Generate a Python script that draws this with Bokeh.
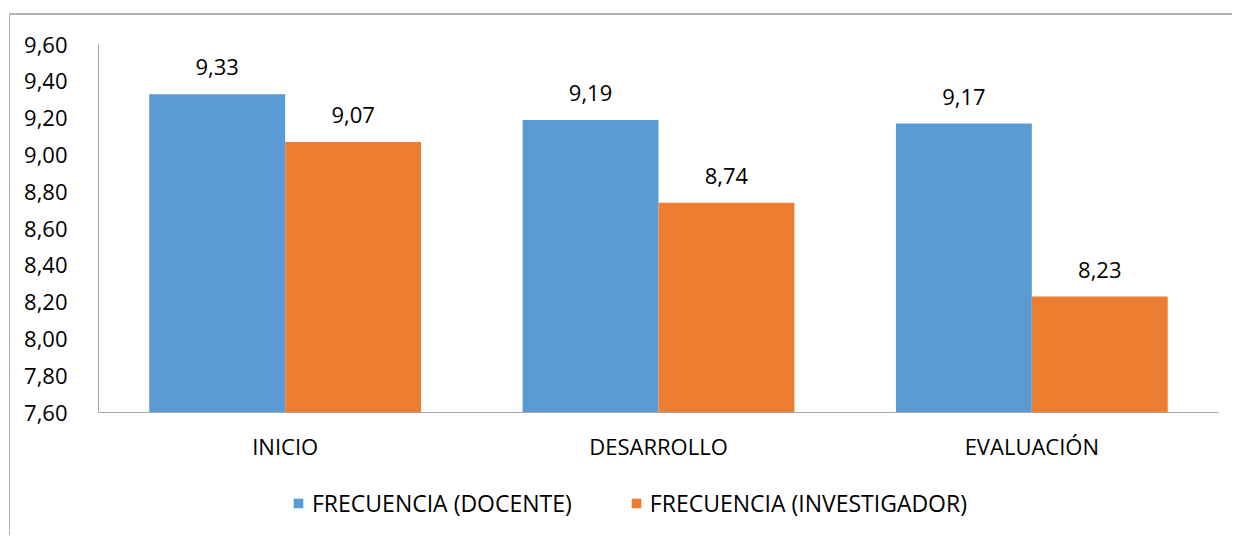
from bokeh.plotting import figure
from bokeh.layouts import column
from bokeh.models import (ColumnDataSource, FactorRange, Range1d, CustomJSTickFormatter, FixedTicker,
                          LabelSet, Legend, LegendItem)
from bokeh.core.properties import value
from bokeh.transform import dodge
from bokeh.embed import file_html
from bokeh.resources import INLINE

categories = ["INICIO", "DESARROLLO", "EVALUACIÓN"]
docente = [9.33, 9.19, 9.17]
investigador = [9.07, 8.74, 8.23]
series_names = ["FRECUENCIA (DOCENTE)", "FRECUENCIA (INVESTIGADOR)"]
y_ticks = [7.6, 7.8, 8.0, 8.2, 8.4, 8.6, 8.8, 9.0, 9.2, 9.4, 9.6]

FONT = "Open Sans"
FS = "22px"
BLUE = "#5B9BD5"
ORANGE = "#ED7D31"
AXIS = "#A6A6A6"

def fmt(v):
    return f"{v:.2f}".replace(".", ",")

src = ColumnDataSource(dict(
    cat=categories,
    doc=docente,
    inv=investigador,
    doc_lbl=[fmt(v) for v in docente],
    inv_lbl=[fmt(v) for v in investigador],
))

p = figure(width=1222, height=470, output_backend="svg", toolbar_location=None,
           x_range=FactorRange(*categories, range_padding=0),
           y_range=Range1d(y_ticks[0], y_ticks[-1]),
           min_border_left=88, min_border_right=14, min_border_top=29, min_border_bottom=73)

bw = 0.364
p.vbar(x=dodge("cat", -bw / 2, range=p.x_range), top="doc", bottom=y_ticks[0], width=bw,
       source=src, fill_color=BLUE, line_color=None)
p.vbar(x=dodge("cat", bw / 2, range=p.x_range), top="inv", bottom=y_ticks[0], width=bw,
       source=src, fill_color=ORANGE, line_color=None)

for col, lbl, off in (("doc", "doc_lbl", -bw / 2), ("inv", "inv_lbl", bw / 2)):
    ls = LabelSet(x=dodge("cat", off, range=p.x_range), y=col, text=lbl, source=src,
                  text_align="center", text_baseline="bottom", y_offset=19,
                  text_font=value(FONT), text_font_size=FS, text_color="#000000")
    p.add_layout(ls)

p.xgrid.grid_line_color = None
p.ygrid.grid_line_color = None
p.outline_line_color = None

p.yaxis.ticker = FixedTicker(ticks=y_ticks)
p.yaxis.formatter = CustomJSTickFormatter(code="return tick.toFixed(2).replace('.', ',');")
for ax in (p.xaxis[0], p.yaxis[0]):
    ax.axis_line_color = AXIS
    ax.axis_line_width = 1
    ax.major_tick_line_color = None
    ax.minor_tick_line_color = None
    ax.major_label_text_font = FONT
    ax.major_label_text_font_size = FS
    ax.major_label_text_color = "#000000"
p.yaxis.major_label_standoff = 25
p.xaxis.major_label_standoff = 12

# legend strip below the chart (its frame is aligned with the chart's frame by the column)
lp = figure(width=1222, height=50, output_backend="svg", toolbar_location=None,
            x_range=Range1d(0, 1), y_range=Range1d(0, 1),
            x_axis_type=None, y_axis_type=None,
            min_border_left=0, min_border_right=0, min_border_top=0, min_border_bottom=0)
lp.xgrid.grid_line_color = None
lp.ygrid.grid_line_color = None
lp.outline_line_color = None
proxy = ColumnDataSource(dict(x=[0.5], y=[0.0]))
e1 = lp.vbar(x="x", top="y", bottom="y", width=0.0, source=proxy, fill_color=BLUE, line_color=None)
e2 = lp.vbar(x="x", top="y", bottom="y", width=0.0, source=proxy, fill_color=ORANGE, line_color=None)
leg = Legend(items=[LegendItem(label=series_names[0], renderers=[e1]),
                    LegendItem(label=series_names[1], renderers=[e2])],
             orientation="horizontal", location=(194, 16),
             border_line_color=None, background_fill_alpha=0,
             glyph_width=12, glyph_height=12, label_standoff=8, spacing=58,
             margin=0, padding=0,
             label_text_font=FONT, label_text_font_size="23px", label_text_color="#000000")
lp.add_layout(leg)

layout = column(p, lp, spacing=0,
                styles={"margin-left": "9px", "margin-top": "13px",
                        "border-left": "1px solid #B4B4B4", "border-top": "2px solid #B4B4B4"})

open("out.html", "w").write(file_html(layout, INLINE))
